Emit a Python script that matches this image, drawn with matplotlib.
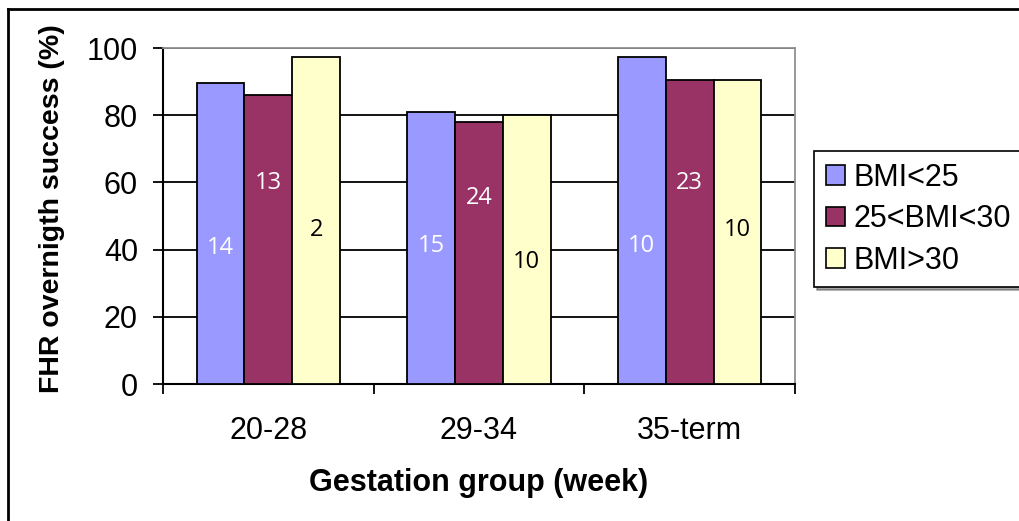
import matplotlib
matplotlib.use("Agg")
import matplotlib.pyplot as plt
from matplotlib.lines import Line2D
from matplotlib.patches import Rectangle
import numpy as np

categories = ["20-28", "29-34", "35-term"]
series_names = ["BMI<25", "25<BMI<30", "BMI>30"]
values = {
    "BMI<25": [89.5, 80.9, 97.4],
    "25<BMI<30": [85.9, 77.9, 90.4],
    "BMI>30": [97.4, 80.2, 90.4],
}
counts = {
    "BMI<25": ["14", "15", "10"],
    "25<BMI<30": ["13", "24", "23"],
    "BMI>30": ["2", "10", "10"],
}
count_y = {
    "BMI<25": [40.5, 41, 41],
    "25<BMI<30": [59.8, 55.4, 59.8],
    "BMI>30": [45.8, 36.3, 45.8],
}
colors = ["#9999FF", "#993366", "#FFFFCC"]
count_colors = ["white", "white", "black"]
yticks = [0, 20, 40, 60, 80, 100]

W, H = 1020, 521
fig = plt.figure(figsize=(W / 100, H / 100), dpi=100)
ax = fig.add_axes([163 / W, 1 - 384 / H, (795 - 163) / W, (384 - 48) / H])

x = np.arange(len(categories))
bw = 0.227
for i, name in enumerate(series_names):
    xs = x + (i - 1) * bw
    ax.bar(xs, values[name], width=bw, color=colors[i], edgecolor="black",
           linewidth=1.3, zorder=3)
    for xi, lab, yy in zip(xs, counts[name], count_y[name]):
        ax.text(xi, yy, lab, ha="center", va="center", color=count_colors[i],
                fontsize=17, family=["Open Sans", "DejaVu Sans"], zorder=4)

ax.set_xlim(-0.5, 2.5)
ax.set_ylim(0, 100)
ax.set_yticks(yticks)
ax.set_yticklabels([str(v) for v in yticks], fontsize=22, family="Liberation Sans")
ax.set_xticks([-0.5, 0.5, 1.5, 2.5])
ax.set_xticklabels([])
ax.set_xticks(x, minor=True)
ax.set_xticklabels(categories, minor=True, fontsize=22, family="Liberation Sans")
ax.tick_params(axis="x", which="minor", length=0, pad=23)
ax.tick_params(axis="x", which="major", length=7, width=1.3, direction="out")
ax.tick_params(axis="y", length=7, width=1.3, direction="out", pad=11)
ax.yaxis.grid(True, color="black", linewidth=1.3, zorder=0)
ax.set_axisbelow(True)
for s in ["top", "right"]:
    ax.spines[s].set_color("#909090")
    ax.spines[s].set_linewidth(1.3)
for s in ["left", "bottom"]:
    ax.spines[s].set_color("black")
    ax.spines[s].set_linewidth(1.5)

ax.set_ylabel("FHR overnigth success (%)", fontsize=20.5, fontweight="bold",
              family="Liberation Sans", va="center")
ax.yaxis.set_label_coords((52 - 163) / 632, (384 - 209) / 336)
ax.set_xlabel("Gestation group (week)", fontsize=22, fontweight="bold",
              family="Liberation Sans", labelpad=16)

handles = [Rectangle((0, 0), 1, 1, facecolor=c, edgecolor="black", linewidth=1.2)
           for c in colors]
leg = fig.legend(handles, series_names, loc="upper left",
                 bbox_to_anchor=(814 / W, 1 - 151 / H),
                 prop={"family": "Liberation Sans", "size": 22},
                 frameon=True, fancybox=False, shadow=True, handlelength=0.62,
                 handleheight=0.62, handletextpad=0.3, labelspacing=0.38,
                 borderpad=0.38, borderaxespad=0)
leg.get_frame().set_edgecolor("black")
leg.get_frame().set_linewidth(1.2)

# outer border (left and top)
fig.add_artist(Line2D([8.5 / W, 8.5 / W], [0, 1 - 8.5 / H], color="black",
                      linewidth=2, transform=fig.transFigure))
fig.add_artist(Line2D([8.5 / W, 1], [1 - 8.5 / H, 1 - 8.5 / H], color="black",
                      linewidth=2, transform=fig.transFigure))

fig.savefig("out.png", dpi=100)
